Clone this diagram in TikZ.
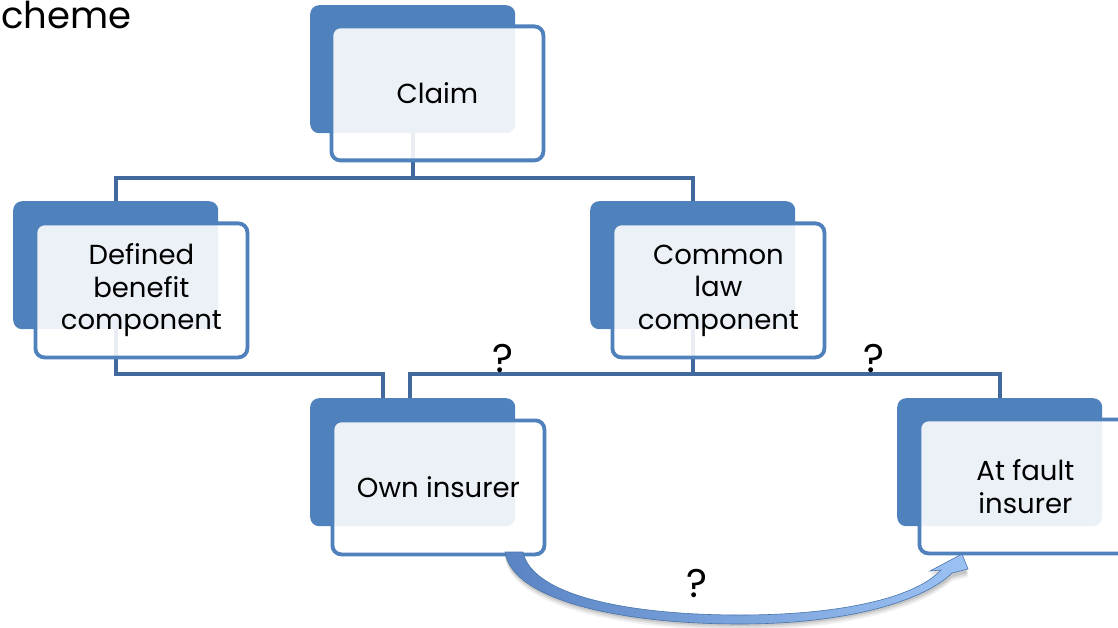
\documentclass[tikz,border=0pt]{standalone}
\usepackage{fontspec}
\setmainfont{Poppins}
\usetikzlibrary{calc}
\definecolor{boxblue}{HTML}{4F81BD}
\definecolor{connblue}{HTML}{41699E}
\definecolor{arrdark}{HTML}{5A84C4}
\definecolor{arrlight}{HTML}{9CC2F4}
\tikzset{
  backbox/.style={fill=boxblue, draw=none, rounded corners=9pt, minimum width=205pt, minimum height=128pt, anchor=north west, inner sep=0pt},
  frontbox/.style={draw=boxblue, line width=3.8pt, fill=white, fill opacity=0.89, text opacity=1, rounded corners=9pt, minimum width=212pt, minimum height=134pt, anchor=north west, align=center, inner sep=0pt, font=\fontsize{27.5}{32.5}\selectfont},
  conn/.style={draw=connblue, line width=4pt},
  qmark/.style={font=\fontsize{40}{42}\selectfont, inner sep=0pt}
}
\begin{document}
\begin{tikzpicture}[x=1pt,y=-1pt]
\fill[white] (0,0) rectangle (1118,628);
\useasboundingbox (0,0) rectangle (1118,628);
% title fragment
\node[anchor=west, inner sep=0pt, font=\fontsize{37}{40}\selectfont] (title) at (1,15) {cheme};
% back boxes
\node[backbox] (cb) at (310,5) {};
\node[backbox] (db) at (13,201) {};
\node[backbox] (cl) at (590,201) {};
\node[backbox] (ob) at (310,398) {};
\node[backbox] (ab) at (897,398) {};
% connectors
\path (cb.south) ++(0,45) coordinate (j1);
\draw[conn] (cb.south) -- (j1);
\draw[conn] (db.north) |- (j1) -| (cl.north);
\path (db.south) ++(0,45) coordinate (j2);
\draw[conn] (db.south) -- (j2) -| ($(ob.north)+(-30,0)$);
\path (cl.south) ++(0,45) coordinate (j3);
\draw[conn] (cl.south) -- (j3);
\draw[conn] ($(ob.north)+(-2.5,0)$) |- (j3) -| (ab.north);
% front boxes
\node[frontbox] (cf) at (329.5,24.5) {Claim};
\node[frontbox] (df) at (33.5,221.5) {Defined\\benefit\\component};
\node[frontbox] (clf) at (610.5,221.5) {Common\\law\\component};
\node[frontbox] (of) at (330.5,418.5) {Own insurer};
\node[frontbox] (af) at (917.5,417.5) {At fault\\insurer};
% question marks
\node[qmark] (q1) at (503,358) {?};
\node[qmark] (q2) at (874,358) {?};
% curved arrow shadow
\foreach \s/\o in {6/0.06,4/0.08,2/0.1}{
\fill[black, opacity=\o] (505,552+\s) .. controls (512,600+\s) and (620,624+\s) .. (740,624+\s) .. controls (850,624+\s) and (925,600+\s) .. (952,575+\s) -- (968,571+\s) -- (962,555+\s) -- (930,571+\s) -- (941,571+\s) .. controls (915,598+\s) and (840,614+\s) .. (740,614+\s) .. controls (630,614+\s) and (532,596+\s) .. (523,552+\s) -- cycle;
}
% curved arrow
\shade[left color=arrdark, right color=arrlight, draw=boxblue!90!black, line width=0.6pt]
 (505,552) .. controls (512,600) and (620,624) .. (740,624) .. controls (850,624) and (925,600) .. (952,573) -- (968,569) -- (962,554) -- (930,571) -- (941,570) .. controls (915,598) and (840,615) .. (740,615) .. controls (630,615) and (532,596) .. (523,552) -- cycle;
\node[qmark] (q3) at (697,583) {?};
\end{tikzpicture}
\end{document}
